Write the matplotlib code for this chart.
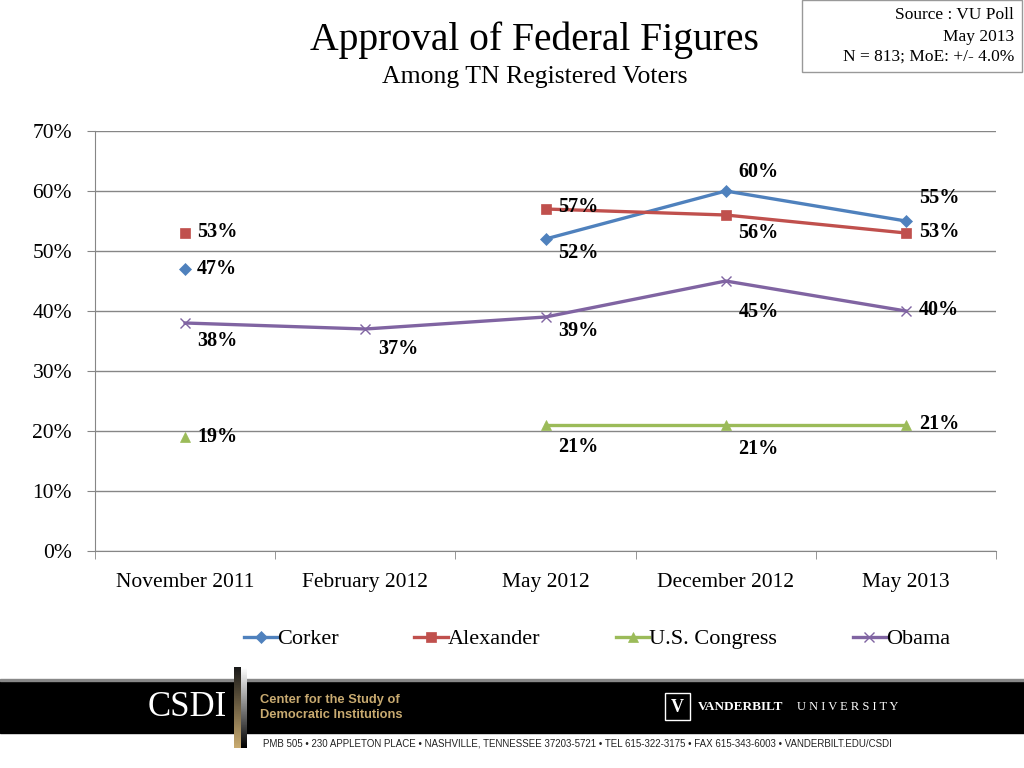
import numpy as np
import matplotlib
matplotlib.use('Agg')
import matplotlib.pyplot as plt
from matplotlib.patches import Rectangle

plt.rcParams['font.family'] = ['Liberation Serif', 'DejaVu Serif']

# dane
miesiace = ['November 2011', 'February 2012', 'May 2012', 'December 2012', 'May 2013']
corker = [47, np.nan, 52, 60, 55]
alexander = [53, np.nan, 57, 56, 53]
kongres = [19, np.nan, 21, 21, 21]
obama = [38, 37, 39, 45, 40]

W, H = 1024, 768
def fx(x):
    return x / W
def fy(y):
    return 1 - y / H

fig = plt.figure(figsize=(10.24, 7.68), dpi=100)
ax = fig.add_axes([fx(95), fy(551), fx(996) - fx(95), fy(131) - fy(551)])

x = np.arange(len(miesiace))
serie = [
    ('Corker', corker, '#4F81BD', 'D', 6),
    ('Alexander', alexander, '#C0504D', 's', 7),
    ('U.S. Congress', kongres, '#9BBB59', '^', 7),
    ('Obama', obama, '#8064A2', 'x', 7),
]
for nazwa, y, kolor, m, ms in serie:
    ax.plot(x, y, color=kolor, lw=2.4, marker=m, ms=ms, mew=1.0 if m == 'x' else 0.5,
            mec=kolor, label=nazwa, zorder=3)

# przesunięcia etykiet (piksele: w prawo, w dół)
przes = {
    'Corker': [(32, 0), None, (33, 14), (33, -19), (33, -23)],
    'Alexander': [(32, -1), None, (33, -2), (33, 18), (33, -1)],
    'U.S. Congress': [(32, 0), None, (33, 22), (33, 24), (33, -1)],
    'Obama': [(32, 18), (33, 20), (33, 14), (33, 31), (33, -1)],
}
for nazwa, y, kolor, m, ms in serie:
    for i, v in enumerate(y):
        if np.isnan(v):
            continue
        dx, dy = przes[nazwa][i]
        ax.annotate(f'{v:.0f}%', (i, v), xytext=(dx * 0.72, -dy * 0.72),
                    textcoords='offset points', ha='center', va='center',
                    fontsize=14.5, fontweight='bold', color='black', zorder=4)

ax.set_xlim(-0.5, 4.5)
ax.set_ylim(0, 70)
ax.set_yticks(range(0, 71, 10))
ax.set_yticklabels([f'{t}%' for t in range(0, 71, 10)], fontsize=15.5)
ax.set_xticks(x)
ax.set_xticklabels(miesiace, fontsize=15.5)
ax.set_xticks(np.arange(-0.5, 4.6, 1), minor=True)
ax.tick_params(axis='x', which='major', length=0, pad=16)
ax.tick_params(axis='x', which='minor', length=6, color='#868686', direction='out')
ax.tick_params(axis='y', length=6, color='#868686', pad=10.5)
ax.grid(axis='y', color='#868686', lw=1)
ax.set_axisbelow(True)
for s in ['top', 'right']:
    ax.spines[s].set_visible(False)
for s in ['left', 'bottom']:
    ax.spines[s].set_color('#868686')

fig.legend(loc='center', bbox_to_anchor=(fx(597), fy(639)), ncol=4, frameon=False,
           fontsize=16, handlelength=1.5, handletextpad=0.0, columnspacing=3.4)

# tytuł
fig.text(fx(534), fy(40), 'Approval of Federal Figures', fontsize=28.5, ha='center', va='center')
fig.text(fx(535), fy(77), 'Among TN Registered Voters', fontsize=18.5, ha='center', va='center')

# ramka źródła
fig.patches.append(Rectangle((fx(802), fy(72)), fx(1022) - fx(802), fy(0) - fy(72),
                             transform=fig.transFigure, fill=False, ec='#999999', lw=1))
fig.text(fx(1014), fy(15), 'Source : VU Poll', fontsize=12.5, ha='right', va='center')
fig.text(fx(1014), fy(37), 'May 2013', fontsize=12.5, ha='right', va='center')
fig.text(fx(1014), fy(57), 'N = 813; MoE: +/- 4.0%', fontsize=12.5, ha='right', va='center')

# stopka
fig.patches.append(Rectangle((0, fy(733)), 1, fy(681) - fy(733), transform=fig.transFigure,
                             color='black', zorder=0))
fig.patches.append(Rectangle((0, fy(681)), 1, 0.002, transform=fig.transFigure,
                             color='#888888', zorder=0))
g1 = fig.add_axes([fx(234), fy(748), fx(7), fy(667) - fy(748)], zorder=5)
g1.imshow(np.linspace(0, 1, 50)[:, None], aspect='auto',
          cmap=matplotlib.colors.LinearSegmentedColormap.from_list('z', ['#1a1a1a', '#c8aa70']))
g1.axis('off')
g2 = fig.add_axes([fx(241), fy(748), fx(6), fy(667) - fy(748)], zorder=5)
g2.imshow(np.linspace(0, 1, 50)[:, None], aspect='auto', cmap='gray_r')
g2.axis('off')
fig.text(fx(187), fy(708), 'CSDI', fontsize=25, color='white', ha='center', va='center')
fig.text(fx(260), fy(700), 'Center for the Study of', fontsize=9.3, color='#c8aa70',
         fontweight='bold', ha='left', va='center', family='Liberation Sans')
fig.text(fx(260), fy(715), 'Democratic Institutions', fontsize=9.3, color='#c8aa70',
         fontweight='bold', ha='left', va='center', family='Liberation Sans')
fig.patches.append(Rectangle((fx(665), fy(720)), fx(25), fy(693) - fy(720), transform=fig.transFigure,
                             fill=False, ec='white', lw=1))
fig.text(fx(677), fy(707), 'V', fontsize=13, color='white', fontweight='bold', ha='center', va='center')
fig.text(fx(698), fy(707), 'VANDERBILT', fontsize=9.5, color='white', fontweight='bold',
         ha='left', va='center')
fig.text(fx(797), fy(707), 'U N I V E R S I T Y', fontsize=9, color='white', ha='left', va='center')
fig.text(fx(263), fy(743),
         'PMB 505 • 230 APPLETON PLACE • NASHVILLE, TENNESSEE 37203-5721 • TEL 615-322-3175 • FAX 615-343-6003 • VANDERBILT.EDU/CSDI',
         fontsize=7.0, color='#222222', ha='left', va='center', family='Liberation Sans')

fig.savefig('out.png', dpi=100)
